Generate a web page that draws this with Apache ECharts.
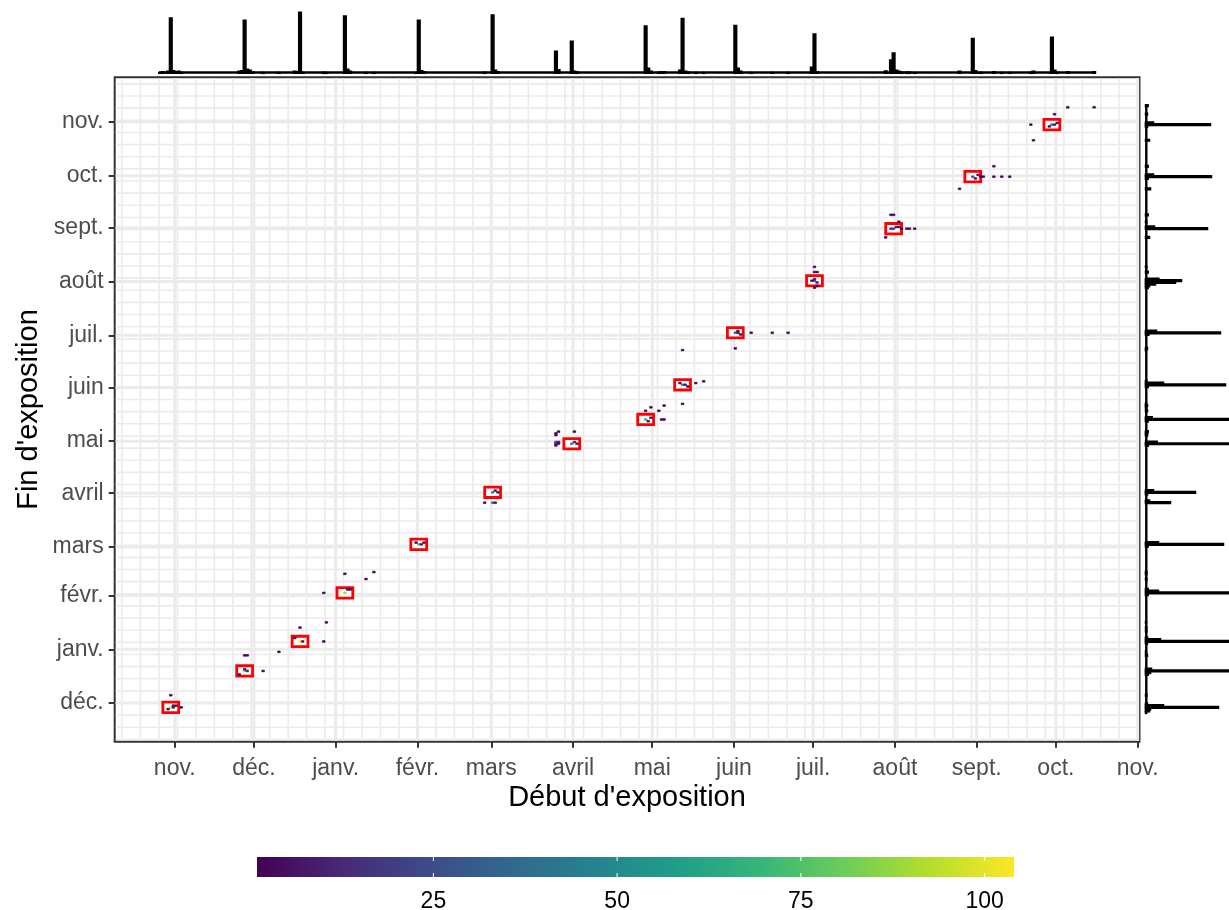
<!DOCTYPE html>
<html>
<head>
<meta charset="utf-8">
<script src="https://cdn.jsdelivr.net/npm/echarts@6/dist/echarts.min.js"></script>
<style>html,body{margin:0;padding:0;background:#fff}#c{width:1229px;height:910px}</style>
</head>
<body>
<div id="c"></div>
<script>
// ---------- DATA ----------
const xTickDates = ['2018-11-01','2018-12-01','2019-01-01','2019-02-01','2019-03-01','2019-04-01','2019-05-01','2019-06-01','2019-07-01','2019-08-01','2019-09-01','2019-10-01','2019-11-01'];
const xTickLabels = ['nov.','déc.','janv.','févr.','mars','avril','mai','juin','juil.','août','sept.','oct.','nov.'];
const yTickDates = ['2018-12-01','2019-01-01','2019-02-01','2019-03-01','2019-04-01','2019-05-01','2019-06-01','2019-07-01','2019-08-01','2019-09-01','2019-10-01','2019-11-01'];
const yTickLabels = ['déc.','janv.','févr.','mars','avril','mai','juin','juil.','août','sept.','oct.','nov.'];
const colorbarTicks = [25, 50, 75, 100];
const countRange = [1, 104];

// heatmap cells: [start of exposure, end of exposure, count]
const cells = [
 ['2018-10-30','2018-11-28',95],['2018-10-31','2018-11-28',8],['2018-11-01','2018-11-29',5],['2018-10-31','2018-11-29',4],
 ['2018-10-29','2018-11-27',2],['2018-10-30','2018-12-05',2],['2018-11-03','2018-11-28',2],
 ['2018-11-27','2018-12-19',85],['2018-11-27','2018-12-20',4],['2018-11-28','2018-12-19',6],['2018-11-25','2018-12-17',3],
 ['2018-11-27','2018-12-28',2],['2018-11-28','2018-12-28',2],['2018-12-04','2018-12-19',1],['2018-12-10','2018-12-30',1],
 ['2018-12-18','2019-01-05',104],['2018-12-16','2019-01-07',3],['2018-12-19','2019-01-05',5],['2018-12-18','2019-01-13',2],
 ['2018-12-28','2019-01-16',1],['2018-12-27','2019-01-05',1],
 ['2019-01-04','2019-02-02',90],['2019-01-05','2019-02-04',4],['2019-01-06','2019-02-04',3],['2019-01-04','2019-02-13',2],
 ['2019-01-15','2019-02-14',1],['2019-01-12','2019-02-10',1],['2018-12-27','2019-02-02',1],
 ['2019-02-01','2019-03-02',75],['2019-02-02','2019-03-02',4],['2019-02-03','2019-03-03',3],['2019-01-31','2019-03-03',2],
 ['2019-03-01','2019-04-01',45],['2019-03-02','2019-04-02',6],['2019-03-03','2019-04-01',4],['2019-03-01','2019-03-26',35],
 ['2019-02-26','2019-03-26',2],['2019-03-02','2019-03-26',4],
 ['2019-03-31','2019-04-29',45],['2019-04-01','2019-04-30',6],['2019-04-02','2019-04-29',4],['2019-03-25','2019-04-30',22],
 ['2019-03-26','2019-04-30',6],['2019-03-25','2019-04-29',10],['2019-03-26','2019-04-29',4],['2019-03-25','2019-04-28',3],
 ['2019-03-25','2019-05-05',2],['2019-03-25','2019-05-04',3],['2019-03-26','2019-05-06',1],['2019-04-01','2019-05-06',1],
 ['2019-04-28','2019-05-13',70],['2019-04-29','2019-05-12',4],['2019-04-30','2019-05-14',3],['2019-04-28','2019-05-18',2],
 ['2019-04-30','2019-05-20',1],['2019-05-03','2019-05-18',1],['2019-05-05','2019-05-21',1],['2019-05-04','2019-05-13',2],
 ['2019-05-05','2019-05-13',2],['2019-05-12','2019-05-22',1],
 ['2019-05-12','2019-06-02',50],['2019-05-13','2019-06-02',5],['2019-05-11','2019-06-03',3],['2019-05-14','2019-06-01',2],
 ['2019-05-17','2019-06-03',1],['2019-05-20','2019-06-04',1],['2019-05-12','2019-06-22',1],
 ['2019-06-01','2019-07-02',30],['2019-06-02','2019-07-02',8],['2019-06-03','2019-07-01',5],['2019-06-02','2019-07-03',3],
 ['2019-06-07','2019-07-02',1],['2019-06-15','2019-07-02',1],['2019-06-21','2019-07-02',1],['2019-06-01','2019-06-23',1],
 ['2019-07-01','2019-08-01',22],['2019-07-02','2019-07-31',8],['2019-07-01','2019-08-02',5],['2019-06-30','2019-08-01',3],
 ['2019-07-02','2019-07-29',3],['2019-07-01','2019-07-28',2],['2019-07-01','2019-08-09',1],['2019-07-01','2019-08-06',2],
 ['2019-07-02','2019-08-06',2],
 ['2019-07-31','2019-08-31',15],['2019-07-30','2019-08-31',10],['2019-08-01','2019-09-01',4],['2019-08-02','2019-09-01',3],
 ['2019-08-03','2019-08-31',2],['2019-07-30','2019-09-08',2],['2019-07-31','2019-09-08',2],['2019-08-02','2019-09-04',1],
 ['2019-08-05','2019-08-31',2],['2019-08-06','2019-08-31',2],['2019-08-08','2019-08-31',1],['2019-07-28','2019-08-26',1],
 ['2019-08-30','2019-09-30',25],['2019-08-31','2019-09-29',6],['2019-09-01','2019-10-01',4],['2019-09-02','2019-09-30',3],
 ['2019-09-03','2019-09-30',1],['2019-09-07','2019-09-30',1],['2019-09-10','2019-09-30',1],['2019-09-13','2019-09-30',1],
 ['2019-09-07','2019-10-06',1],['2019-08-25','2019-09-23',1],
 ['2019-09-29','2019-10-30',40],['2019-09-30','2019-10-30',6],['2019-10-01','2019-10-31',4],['2019-09-28','2019-10-29',3],
 ['2019-09-30','2019-11-05',2],['2019-10-05','2019-11-09',1],['2019-10-15','2019-11-09',1],['2019-09-21','2019-10-30',1],
 ['2019-09-22','2019-10-21',1]
];

// modal (start, end) pair of each period, outlined in red
const modeStart = ['2018-10-30','2018-11-27','2018-12-18','2019-01-04','2019-02-01','2019-03-01','2019-03-31','2019-04-28','2019-05-12','2019-06-01','2019-07-01','2019-07-31','2019-08-30','2019-09-29'];
const modeEnd   = ['2018-11-28','2018-12-19','2019-01-05','2019-02-02','2019-03-02','2019-04-01','2019-04-29','2019-05-13','2019-06-02','2019-07-02','2019-08-01','2019-08-31','2019-09-30','2019-10-30'];

// marginal histogram of start dates (daily bins, days not listed = 0)
const startHistRange = ['2018-10-26','2019-10-15'];
const startHist = [
 ['2018-10-26',3],['2018-10-27',6],['2018-10-29',8],['2018-10-30',221],['2018-10-31',10],['2018-11-01',6],['2018-11-02',8],['2018-11-03',4],
 ['2018-11-25',8],['2018-11-26',10],['2018-11-27',212],['2018-11-28',16],['2018-11-29',12],['2018-11-30',6],
 ['2018-12-04',3],['2018-12-10',3],['2018-12-16',8],['2018-12-17',6],['2018-12-18',244],['2018-12-19',4],['2018-12-27',4],['2018-12-28',3],
 ['2019-01-04',229],['2019-01-05',16],['2019-01-06',8],['2019-01-12',3],['2019-01-15',3],
 ['2019-01-31',3],['2019-02-01',212],['2019-02-02',10],['2019-02-03',6],
 ['2019-02-26',4],['2019-03-01',233],['2019-03-02',12],['2019-03-03',6],
 ['2019-03-25',88],['2019-03-26',14],['2019-03-31',128],['2019-04-01',8],['2019-04-02',5],
 ['2019-04-28',189],['2019-04-29',20],['2019-04-30',8],['2019-05-03',4],['2019-05-04',6],['2019-05-05',6],
 ['2019-05-11',12],['2019-05-12',219],['2019-05-13',8],['2019-05-14',5],['2019-05-17',3],['2019-05-20',3],
 ['2019-06-01',191],['2019-06-02',20],['2019-06-03',8],['2019-06-07',3],['2019-06-15',3],['2019-06-21',3],
 ['2019-06-30',24],['2019-07-01',157],['2019-07-02',6],
 ['2019-07-28',9],['2019-07-30',53],['2019-07-31',81],['2019-08-01',12],['2019-08-02',8],['2019-08-03',5],['2019-08-05',5],['2019-08-06',5],['2019-08-08',3],
 ['2019-08-25',8],['2019-08-30',139],['2019-08-31',10],['2019-09-02',4],['2019-09-07',6],['2019-09-10',3],['2019-09-13',3],
 ['2019-09-21',4],['2019-09-22',8],['2019-09-29',144],['2019-09-30',12],['2019-10-01',4],['2019-10-05',6],['2019-10-15',6]
];

// marginal histogram of end dates (daily bins, days not listed = 0)
const endHistRange = ['2018-11-25','2019-11-10'];
const endHist = [
 ['2018-11-25',3],['2018-11-26',12],['2018-11-27',15],['2018-11-28',219],['2018-11-29',54],['2018-11-30',6],['2018-12-05',4],
 ['2018-12-17',8],['2018-12-18',15],['2018-12-19',285],['2018-12-20',18],['2018-12-28',6],['2018-12-30',3],
 ['2019-01-04',6],['2019-01-05',300],['2019-01-06',45],['2019-01-07',6],['2019-01-11',4],['2019-01-13',4],['2019-01-16',3],
 ['2019-02-01',8],['2019-02-02',290],['2019-02-03',39],['2019-02-04',8],['2019-02-10',4],['2019-02-13',4],['2019-02-14',4],
 ['2019-03-01',8],['2019-03-02',234],['2019-03-03',39],
 ['2019-03-26',75],['2019-03-27',12],['2019-03-31',6],['2019-04-01',150],['2019-04-02',24],
 ['2019-04-28',8],['2019-04-29',280],['2019-04-30',35],['2019-05-04',6],['2019-05-05',6],['2019-05-06',8],
 ['2019-05-12',8],['2019-05-13',270],['2019-05-14',20],['2019-05-18',6],['2019-05-20',3],['2019-05-21',6],['2019-05-22',3],
 ['2019-06-01',8],['2019-06-02',240],['2019-06-03',54],['2019-06-04',4],['2019-06-22',3],['2019-06-23',6],
 ['2019-07-01',10],['2019-07-02',225],['2019-07-03',33],
 ['2019-07-28',8],['2019-07-29',12],['2019-07-30',30],['2019-07-31',90],['2019-08-01',108],['2019-08-02',40],['2019-08-06',8],['2019-08-09',4],
 ['2019-08-26',12],['2019-08-31',186],['2019-09-01',27],['2019-09-04',4],['2019-09-08',8],
 ['2019-09-23',15],['2019-09-29',8],['2019-09-30',198],['2019-10-01',24],['2019-10-06',8],
 ['2019-10-21',12],['2019-10-29',6],['2019-10-30',195],['2019-10-31',24],['2019-11-05',6],['2019-11-10',8]
];

// ---------- HELPERS ----------
const DAY = 86400000;
const ts = s => Date.parse(s + 'T00:00:00Z');
const FONT = "'Liberation Sans', Arial, Helvetica, sans-serif";
const viridis = ['#440154','#482878','#3E4A89','#31688E','#26828E','#1F9E89','#35B779','#6DCD59','#B4DE2C','#FDE725'];

const xMin = ts('2018-11-01') - 22.75 * DAY, xMax = ts('2018-11-01') + 365.7 * DAY;
const yMin = ts('2018-12-01') - 22.3 * DAY,  yMax = ts('2018-12-01') + 360.8 * DAY;

const xTickTs = xTickDates.map(ts), yTickTs = yTickDates.map(ts);
const xLab = new Map(xTickTs.map((t, i) => [t, xTickLabels[i]]));
const yLab = new Map(yTickTs.map((t, i) => [t, yTickLabels[i]]));

// grid break positions (major = monthly ticks, minor = weekly)
const vLines = [], hLines = [];
for (let t = ts('2018-10-12'); t <= xMax; t += 7 * DAY) vLines.push([t, yMin, 0]);
for (let t = ts('2018-11-10'); t <= yMax; t += 7 * DAY) hLines.push([xMin, t, 0]);
xTickTs.forEach(t => vLines.push([t, yMin, 1]));
yTickTs.forEach(t => hLines.push([xMin, t, 1]));

const BLACK = '#000000';

const chart = echarts.init(document.getElementById('c'), null, {renderer: 'canvas'});

const option = {
  animation: false,
  backgroundColor: '#ffffff',
  textStyle: {fontFamily: FONT},
  grid: [
    {left: 114.7, top: 77.3, width: 1024.8, height: 664.4, show: true, borderColor: '#333333', borderWidth: 2, backgroundColor: '#ffffff', outerBoundsMode: 'none', containLabel: false},
    {left: 114.7, top: 0, width: 1024.8, height: 73.3, outerBoundsMode: 'none', containLabel: false},
    {left: 1145.5, top: 77.3, width: 100, height: 664.4, outerBoundsMode: 'none', containLabel: false},
    {left: 257, top: 857, width: 757, height: 20, outerBoundsMode: 'none', containLabel: false}
  ],
  xAxis: [
    {gridIndex: 0, type: 'value', min: xMin, max: xMax,
     axisLine: {show: false},
     axisTick: {show: true, customValues: xTickTs, length: 6, lineStyle: {color: '#333333', width: 2}},
     axisLabel: {show: true, customValues: xTickTs, formatter: v => xLab.get(v) || '', color: '#4D4D4D', fontSize: 23, margin: 15, fontFamily: FONT},
     splitLine: {show: false}},
    {gridIndex: 1, type: 'value', min: xMin, max: xMax, show: false},
    {gridIndex: 2, type: 'value', min: 0, max: 300, show: false},
    {gridIndex: 3, type: 'value', min: countRange[0], max: countRange[1],
     axisLine: {show: false}, axisTick: {show: false}, splitLine: {show: false},
     axisLabel: {show: true, customValues: colorbarTicks, color: '#000000', fontSize: 23, margin: 13, fontFamily: FONT}}
  ],
  yAxis: [
    {gridIndex: 0, type: 'value', min: yMin, max: yMax,
     axisLine: {show: false},
     axisTick: {show: true, customValues: yTickTs, length: 6, lineStyle: {color: '#333333', width: 2}},
     axisLabel: {show: true, customValues: yTickTs, formatter: v => yLab.get(v) || '', color: '#4D4D4D', fontSize: 23, margin: 11, fontFamily: FONT},
     splitLine: {show: false}},
    {gridIndex: 1, type: 'value', min: 0, max: 293, show: false},
    {gridIndex: 2, type: 'value', min: yMin, max: yMax, show: false},
    {gridIndex: 3, type: 'value', min: 0, max: 1, show: false}
  ],
  visualMap: {
    type: 'continuous', show: false, min: countRange[0], max: countRange[1], dimension: 2, seriesIndex: 3,
    inRange: {color: viridis}
  },
  graphic: [
    {type: 'text', x: 627, y: 798, silent: true,
     style: {text: "Début d'exposition", fontSize: 29, fontFamily: FONT, fill: '#000000', textAlign: 'center', textVerticalAlign: 'middle'}},
    {type: 'text', x: 29, y: 409.5, rotation: Math.PI / 2, silent: true,
     style: {text: "Fin d'exposition", fontSize: 29, fontFamily: FONT, fill: '#000000', textAlign: 'center', textVerticalAlign: 'middle'}}
  ],
  series: [
    // 0: vertical grid lines
    {type: 'custom', xAxisIndex: 0, yAxisIndex: 0, z: 1, silent: true, data: vLines, encode: {x: 0, y: 1},
     renderItem: (params, api) => {
       const cs = params.coordSys;
       const x = api.coord([api.value(0), api.value(1)])[0];
       const major = api.value(2) === 1;
       return {type: 'line', shape: {x1: x, y1: cs.y + 1, x2: x, y2: cs.y + cs.height - 1},
               style: {stroke: '#EBEBEB', lineWidth: major ? 3 : 1.6}};
     }},
    // 1: horizontal grid lines
    {type: 'custom', xAxisIndex: 0, yAxisIndex: 0, z: 1, silent: true, data: hLines, encode: {x: 0, y: 1},
     renderItem: (params, api) => {
       const cs = params.coordSys;
       const y = api.coord([api.value(0), api.value(1)])[1];
       const major = api.value(2) === 1;
       return {type: 'line', shape: {x1: cs.x + 1, y1: y, x2: cs.x + cs.width - 1, y2: y},
               style: {stroke: '#EBEBEB', lineWidth: major ? 3 : 1.6}};
     }},
    // 2: red boxes around modal cells
    {type: 'custom', xAxisIndex: 0, yAxisIndex: 0, z: 2, silent: true,
     data: modeStart.map((s, i) => [ts(s), ts(modeEnd[i])]), encode: {x: 0, y: 1},
     renderItem: (params, api) => {
       const cx = api.value(0) + DAY / 2, cy = api.value(1) + DAY / 2;
       const p0 = api.coord([cx - 3 * DAY, cy + 3 * DAY]);
       const p1 = api.coord([cx + 3 * DAY, cy - 3 * DAY]);
       return {type: 'rect', shape: {x: p0[0], y: p0[1], width: p1[0] - p0[0], height: p1[1] - p0[1]},
               style: {fill: '#ffffff', stroke: '#FF0000', lineWidth: 2.8}};
     }},
    // 3: heatmap cells
    {type: 'custom', xAxisIndex: 0, yAxisIndex: 0, z: 3, silent: true,
     data: cells.map(c => [ts(c[0]), ts(c[1]), c[2]]), encode: {x: 0, y: 1},
     renderItem: (params, api) => {
       const s = api.value(0), e = api.value(1);
       const p0 = api.coord([s, e + DAY]);
       const p1 = api.coord([s + DAY, e]);
       const col = api.visual('color');
       return {type: 'rect', shape: {x: p0[0], y: p0[1], width: p1[0] - p0[0], height: p1[1] - p0[1]},
               style: {fill: col, stroke: col, lineWidth: 0.6}};
     }},
    // 4: top marginal histogram baseline (empty bins)
    {type: 'custom', xAxisIndex: 1, yAxisIndex: 1, z: 2, silent: true,
     data: [[ts(startHistRange[0]), 0, ts(startHistRange[1]) + DAY]], encode: {x: 0, y: 1},
     renderItem: (params, api) => {
       const a = api.coord([api.value(0), 0]), b = api.coord([api.value(2), 0]);
       return {type: 'line', shape: {x1: a[0], y1: a[1] - 0.8, x2: b[0], y2: b[1] - 0.8}, style: {stroke: BLACK, lineWidth: 2.4}};
     }},
    // 5: top marginal histogram bars (start dates)
    {type: 'custom', xAxisIndex: 1, yAxisIndex: 1, z: 3, silent: true,
     data: startHist.map(b => [ts(b[0]), b[1]]), encode: {x: 0, y: 1},
     renderItem: (params, api) => {
       const d = api.value(0), c = api.value(1);
       const p0 = api.coord([d, c]), p1 = api.coord([d + DAY, 0]);
       return {type: 'rect', shape: {x: p0[0], y: p0[1], width: p1[0] - p0[0], height: p1[1] - p0[1]},
               style: {fill: BLACK, stroke: BLACK, lineWidth: 1.5}};
     }},
    // 6: right marginal histogram baseline (empty bins)
    {type: 'custom', xAxisIndex: 2, yAxisIndex: 2, z: 2, silent: true,
     data: [[0, ts(endHistRange[0]), ts(endHistRange[1]) + DAY]], encode: {x: 0, y: 1},
     renderItem: (params, api) => {
       const a = api.coord([0, api.value(1)]), b = api.coord([0, api.value(2)]);
       return {type: 'line', shape: {x1: a[0] + 0.8, y1: a[1], x2: b[0] + 0.8, y2: b[1]}, style: {stroke: BLACK, lineWidth: 2.4}};
     }},
    // 7: right marginal histogram bars (end dates)
    {type: 'custom', xAxisIndex: 2, yAxisIndex: 2, z: 3, silent: true,
     data: endHist.map(b => [b[1], ts(b[0])]), encode: {x: 0, y: 1},
     renderItem: (params, api) => {
       const c = api.value(0), d = api.value(1);
       const p0 = api.coord([0, d + DAY]), p1 = api.coord([c, d]);
       return {type: 'rect', shape: {x: p0[0], y: p0[1], width: p1[0] - p0[0], height: p1[1] - p0[1]},
               style: {fill: BLACK, stroke: BLACK, lineWidth: 1.5}};
     }},
    // 8: colour bar
    {type: 'custom', xAxisIndex: 3, yAxisIndex: 3, z: 2, silent: true, data: [[countRange[0], 0]], encode: {x: 0, y: 1},
     renderItem: (params, api) => {
       const p0 = api.coord([countRange[0], 1]);
       const p1 = api.coord([countRange[1], 0]);
       const h = p1[1] - p0[1];
       const children = [{type: 'rect', shape: {x: p0[0], y: p0[1], width: p1[0] - p0[0], height: h},
         style: {fill: new echarts.graphic.LinearGradient(0, 0, 1, 0,
           viridis.map((c, i) => ({offset: i / (viridis.length - 1), color: c})))}}];
       colorbarTicks.forEach(v => {
         const x = api.coord([v, 0])[0];
         children.push({type: 'line', shape: {x1: x, y1: p0[1], x2: x, y2: p0[1] + h / 5}, style: {stroke: '#ffffff', lineWidth: 1}});
         children.push({type: 'line', shape: {x1: x, y1: p1[1] - h / 5, x2: x, y2: p1[1]}, style: {stroke: '#ffffff', lineWidth: 1}});
       });
       return {type: 'group', children};
     }}
  ]
};
chart.setOption(option);
</script>
</body>
</html>
